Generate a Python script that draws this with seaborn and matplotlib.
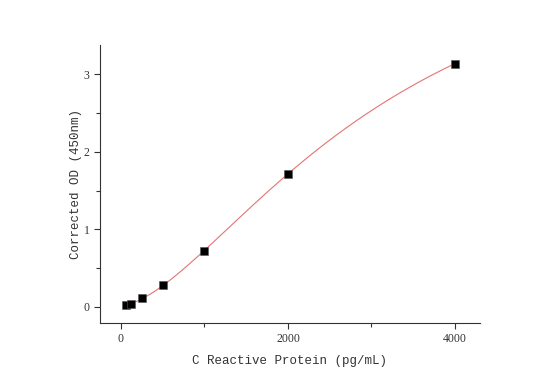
import numpy as np
import pandas as pd
import matplotlib
matplotlib.use("Agg")
import matplotlib.pyplot as plt
from matplotlib.ticker import MultipleLocator
import seaborn as sns

# Data
concentration = [62.5, 125, 250, 500, 1000, 2000, 4000]
od = [0.02, 0.04, 0.12, 0.28, 0.72, 1.72, 3.14]
x_label = "C Reactive Protein (pg/mL)"
y_label = "Corrected OD (450nm)"
x_ticks = [0, 2000, 4000]
y_ticks = [0, 1, 2, 3]

# Four-parameter logistic fit (grid over b,c; linear LSQ for a,d)
xs = np.array(concentration, float)
ys = np.array(od, float)
best = None
for b in np.linspace(0.8, 3.0, 111):
    for c in np.linspace(500, 10000, 191):
        g = 1.0 / (1.0 + (xs / c) ** b)
        A = np.column_stack([g, 1 - g])
        sol, *_ = np.linalg.lstsq(A, ys, rcond=None)
        err = np.sum((A @ sol - ys) ** 2)
        if best is None or err < best[0]:
            best = (err, b, c, sol[0], sol[1])
_, b, c, a, d = best
xf = np.linspace(min(concentration), max(concentration), 400)
yf = d + (a - d) / (1.0 + (xf / c) ** b)

sns.set_style("ticks")
plt.rcParams["font.family"] = ["Liberation Mono", "DejaVu Sans"]

fig = plt.figure(figsize=(5.6, 3.91), dpi=100)
ax = fig.add_axes([0.1786, 0.174, 0.857 - 0.1786, 0.885 - 0.174])

sns.lineplot(x=xf, y=yf, ax=ax, color="#e57373", linewidth=0.8)
sns.scatterplot(x=concentration, y=od, ax=ax, marker="s", s=26,
                color="black", edgecolor="#555555", linewidth=0.4, zorder=3)

ax.set_xlim(-251, 4299)
ax.set_ylim(-0.206, 3.38)
ax.set_xticks(x_ticks)
ax.set_yticks(y_ticks)
ax.xaxis.set_minor_locator(MultipleLocator(1000))
ax.yaxis.set_minor_locator(MultipleLocator(0.5))
ax.tick_params(which="major", length=4, width=0.8, labelsize=8.5, colors="#333333")
ax.tick_params(which="minor", length=3, width=0.8, colors="#333333")
for lab in ax.get_xticklabels() + ax.get_yticklabels():
    lab.set_family(["Liberation Serif", "DejaVu Serif"])
ax.set_xlabel(x_label, fontsize=9, color="#333333", labelpad=7)
ax.set_ylabel(y_label, fontsize=9, color="#333333", labelpad=1)
sns.despine(ax=ax)
for s in ("left", "bottom"):
    ax.spines[s].set_color("#333333")
    ax.spines[s].set_linewidth(0.8)

fig.savefig("out.png", dpi=100)
